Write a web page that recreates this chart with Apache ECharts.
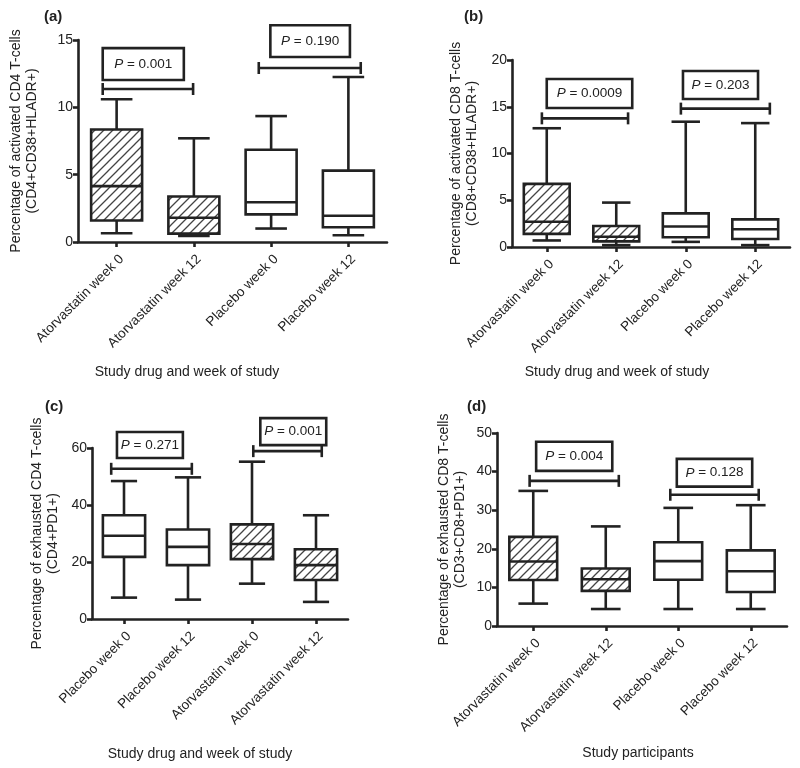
<!DOCTYPE html>
<html><head><meta charset="utf-8">
<script src="https://cdn.jsdelivr.net/npm/echarts@6/dist/echarts.min.js"></script>
<style>html,body{margin:0;padding:0;background:#fff}#c{width:800px;height:768px}</style>
</head><body><div id="c"></div>
<script>
// ---------- categories ----------
const catsAtorvaFirst = ['Atorvastatin week 0', 'Atorvastatin week 12', 'Placebo week 0', 'Placebo week 12'];
const catsPlaceboFirst = ['Placebo week 0', 'Placebo week 12', 'Atorvastatin week 0', 'Atorvastatin week 12'];

// ---------- box statistics: [min, Q1, median, Q3, max] ----------
const boxA = [[0.65, 1.6, 4.15, 8.35, 10.6], [0.45, 0.62, 1.8, 3.38, 7.7], [1.0, 2.05, 2.95, 6.85, 9.35], [0.5, 1.1, 1.95, 5.3, 12.25]];
const boxB = [[0.7, 1.4, 2.7, 6.75, 12.7], [0.2, 0.6, 1.1, 2.25, 4.75], [0.55, 1.05, 2.2, 3.6, 13.4], [0.2, 0.85, 1.9, 2.95, 13.25]];
const boxC = [[7.5, 21.8, 29.2, 36.4, 48.4], [6.8, 18.9, 25.3, 31.4, 49.7], [12.4, 21.0, 26.3, 33.2, 55.2], [6.0, 13.7, 18.9, 24.5, 36.4]];
const boxD = [[5.8, 11.9, 16.7, 23.1, 35.0], [4.4, 9.1, 12.1, 14.9, 25.8], [4.4, 12.0, 16.8, 21.7, 30.6], [4.4, 8.8, 14.2, 19.6, 31.3]];

// atorvastatin groups are hatched
const hatchA = [true, true, false, false];
const hatchB = [true, true, false, false];
const hatchC = [false, false, true, true];
const hatchD = [true, true, false, false];

// ---------- comparison brackets: [from category pos, to category pos, value] ----------
const bracketsA = [[-0.18, 0.99, 11.36], [1.84, 3.16, 12.92]];
const bracketsB = [[-0.07, 1.17, 13.76], [1.93, 3.21, 14.8]];
const bracketsC = [[-0.2, 1.06, 52.7], [2.02, 3.09, 58.9]];
const bracketsD = [[-0.05, 1.18, 37.6], [1.89, 3.11, 34.0]];

// ---------- P-value boxes: [from category pos, to category pos, top value, bottom value] ----------
const pBoxA = [[-0.18, 0.87, 14.4, 12.03], [1.99, 3.02, 16.1, 13.74]];
const pBoxB = [[0.0, 1.23, 17.97, 14.87], [1.96, 3.04, 18.82, 15.83]];
const pBoxC = [[-0.11, 0.92, 65.6, 56.5], [2.13, 3.16, 70.5, 61.0]];
const pBoxD = [[0.04, 1.09, 47.75, 40.2], [1.98, 3.02, 43.3, 36.1]];
const pTextA = ['0.001', '0.190'];
const pTextB = ['0.0009', '0.203'];
const pTextC = ['0.271', '0.001'];
const pTextD = ['0.004', '0.128'];

// ---------- axis scales ----------
const yMaxA = 15, yStepA = 5;
const yMaxB = 20, yStepB = 5;
const yMaxC = 60, yStepC = 20;
const yMaxD = 50, yStepD = 10;

// ---------- texts ----------
const yNameA = 'Percentage of activated CD4 T-cells\n(CD4+CD38+HLADR+)';
const yNameB = 'Percentage of activated CD8 T-cells\n(CD8+CD38+HLADR+)';
const yNameC = 'Percentage of exhausted CD4 T-cells\n(CD4+PD1+)';
const yNameD = 'Percentage of exhausted CD8 T-cells\n(CD3+CD8+PD1+)';
const xNameA = 'Study drug and week of study';
const xNameB = 'Study drug and week of study';
const xNameC = 'Study drug and week of study';
const xNameD = 'Study participants';
const letters = ['(a)', '(b)', '(c)', '(d)'];

// ---------- styling ----------
const FONT = '"Liberation Sans", Arial, Helvetica, sans-serif';
const INK = '#222';
const LW = 2.6;

const hatchCanvas = document.createElement('canvas');
hatchCanvas.width = 9; hatchCanvas.height = 9;
(function () {
  const c = hatchCanvas.getContext('2d');
  c.fillStyle = '#fff'; c.fillRect(0, 0, 9, 9);
  c.strokeStyle = '#444'; c.lineWidth = 1.3;
  c.beginPath();
  c.moveTo(-1, 10); c.lineTo(10, -1);
  c.moveTo(-1, 1); c.lineTo(1, -1);
  c.moveTo(8, 10); c.lineTo(10, 8);
  c.stroke();
})();
const hatchFill = { image: hatchCanvas, repeat: 'repeat' };

const panels = [
  { grid: { left: 78, top: 40, width: 309, height: 202 }, cats: catsAtorvaFirst, box: boxA, hatch: hatchA, br: bracketsA, pb: pBoxA, pt: pTextA, yMax: yMaxA, yStep: yStepA, yName: yNameA, gap: 38, xName: xNameA, xPos: [187, 372], letterPos: [44, 9] },
  { grid: { left: 512, top: 60, width: 278, height: 187 }, cats: catsAtorvaFirst, box: boxB, hatch: hatchB, br: bracketsB, pb: pBoxB, pt: pTextB, yMax: yMaxB, yStep: yStepB, yName: yNameB, gap: 32, xName: xNameB, xPos: [617, 372], letterPos: [464, 9] },
  { grid: { left: 92, top: 448, width: 256, height: 171 }, cats: catsPlaceboFirst, box: boxC, hatch: hatchC, br: bracketsC, pb: pBoxC, pt: pTextC, yMax: yMaxC, yStep: yStepC, yName: yNameC, gap: 31, xName: xNameC, xPos: [200, 754], letterPos: [45, 399] },
  { grid: { left: 497, top: 433, width: 290, height: 193 }, cats: catsAtorvaFirst, box: boxD, hatch: hatchD, br: bracketsD, pb: pBoxD, pt: pTextD, yMax: yMaxD, yStep: yStepD, yName: yNameD, gap: 29, xName: xNameD, xPos: [638, 753], letterPos: [467, 399] }
];

function ln(x1, y1, x2, y2) {
  return { type: 'line', shape: { x1: x1, y1: y1, x2: x2, y2: y2 }, style: { stroke: INK, lineWidth: LW, fill: null } };
}

function boxRender(hatch) {
  return function (params, api) {
    const i = api.value(0);
    const band = api.size([1, 0])[0];
    const w = band * 0.66, cap = w * 0.62;
    const pMin = api.coord([i, api.value(1)]);
    const pQ1 = api.coord([i, api.value(2)]);
    const pMed = api.coord([i, api.value(3)]);
    const pQ3 = api.coord([i, api.value(4)]);
    const pMax = api.coord([i, api.value(5)]);
    const cx = pMin[0];
    return {
      type: 'group', children: [
        ln(cx, pMax[1], cx, pQ3[1]),
        ln(cx, pQ1[1], cx, pMin[1]),
        ln(cx - cap / 2, pMax[1], cx + cap / 2, pMax[1]),
        ln(cx - cap / 2, pMin[1], cx + cap / 2, pMin[1]),
        { type: 'rect', shape: { x: cx - w / 2, y: pQ3[1], width: w, height: pQ1[1] - pQ3[1] },
          style: { fill: hatch[params.dataIndex] ? hatchFill : '#fff', stroke: INK, lineWidth: LW } },
        ln(cx - w / 2, pMed[1], cx + w / 2, pMed[1])
      ]
    };
  };
}

function bracketRender(params, api) {
  const y = api.value(2);
  const c0 = api.coord([0, y]);
  const band = api.size([1, 0])[0];
  const x1 = c0[0] + api.value(0) * band;
  const x2 = c0[0] + api.value(1) * band;
  const py = c0[1];
  return {
    type: 'group', children: [
      ln(x1, py, x2, py),
      ln(x1, py - 6, x1, py + 6),
      ln(x2, py - 6, x2, py + 6)
    ]
  };
}

function pBoxRender(texts) {
  return function (params, api) {
    const cTop = api.coord([0, api.value(2)]);
    const cBot = api.coord([0, api.value(3)]);
    const band = api.size([1, 0])[0];
    const x1 = cTop[0] + api.value(0) * band;
    const x2 = cTop[0] + api.value(1) * band;
    return {
      type: 'group', children: [
        { type: 'rect', shape: { x: x1, y: cTop[1], width: x2 - x1, height: cBot[1] - cTop[1] },
          style: { fill: '#fff', stroke: INK, lineWidth: LW } },
        { type: 'text', x: (x1 + x2) / 2, y: (cTop[1] + cBot[1]) / 2,
          style: { text: '{i|P} = ' + texts[params.dataIndex], fontSize: 13.5, fontFamily: FONT, fill: INK,
            align: 'center', verticalAlign: 'middle',
            rich: { i: { fontStyle: 'italic', fontSize: 13.5, fontFamily: FONT, fill: INK } } } }
      ]
    };
  };
}

const grid = [], xAxis = [], yAxis = [], series = [], graphic = [];
panels.forEach(function (p, k) {
  grid.push(Object.assign({ containLabel: false }, p.grid));
  xAxis.push({
    type: 'category', gridIndex: k, data: p.cats,
    axisLine: { show: true, lineStyle: { color: INK, width: LW } },
    axisTick: { show: true, alignWithLabel: true, length: 5, lineStyle: { color: INK, width: LW } },
    axisLabel: { rotate: 45, interval: 0, fontSize: 13.5, fontFamily: FONT, color: INK, margin: 10, verticalAlign: 'top' },
    splitLine: { show: false }
  });
  yAxis.push({
    type: 'value', gridIndex: k, min: 0, max: p.yMax, interval: p.yStep,
    axisLine: { show: true, lineStyle: { color: INK, width: LW } },
    axisTick: { show: true, length: 5, lineStyle: { color: INK, width: LW } },
    axisLabel: { fontSize: 14, fontFamily: FONT, color: INK, margin: 5 },
    splitLine: { show: false },
    name: p.yName, nameLocation: 'middle', nameGap: p.gap,
    nameTextStyle: { fontSize: 14, lineHeight: 16, fontFamily: FONT, color: INK, align: 'center' }
  });
  series.push({
    type: 'custom', xAxisIndex: k, yAxisIndex: k, clip: false,
    renderItem: boxRender(p.hatch),
    encode: { x: 0, y: [1, 2, 3, 4, 5] },
    data: p.box.map(function (b, i) { return [i].concat(b); }),
    silent: true
  });
  series.push({
    type: 'custom', xAxisIndex: k, yAxisIndex: k, clip: false,
    renderItem: bracketRender,
    encode: { x: 3, y: 2 },
    data: p.br.map(function (b) { return [b[0], b[1], b[2], 0]; }),
    silent: true
  });
  series.push({
    type: 'custom', xAxisIndex: k, yAxisIndex: k, clip: false,
    renderItem: pBoxRender(p.pt),
    encode: { x: 4, y: [2, 3] },
    data: p.pb.map(function (b) { return [b[0], b[1], b[2], b[3], 0]; }),
    silent: true, z: 5
  });
  graphic.push({
    type: 'text', x: p.letterPos[0], y: p.letterPos[1],
    style: { text: letters[k], font: 'bold 15px ' + FONT, fill: INK }
  });
  graphic.push({
    type: 'text', x: p.xPos[0], y: p.xPos[1],
    style: { text: p.xName, fontSize: 14, fontFamily: FONT, fill: INK, align: 'center', verticalAlign: 'middle' }
  });
});

const chart = echarts.init(document.getElementById('c'), null, { renderer: 'canvas' });
chart.setOption({
  backgroundColor: '#fff',
  animation: false,
  textStyle: { fontFamily: FONT },
  grid: grid, xAxis: xAxis, yAxis: yAxis, series: series, graphic: graphic
});
</script>
</body></html>
